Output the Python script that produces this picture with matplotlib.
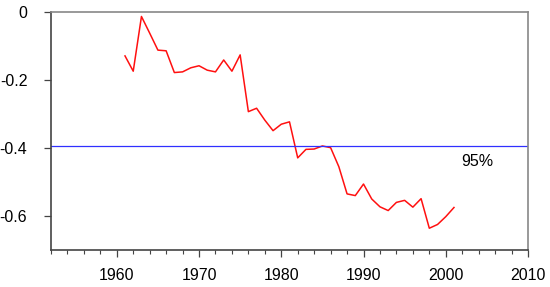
import numpy as np
import matplotlib
matplotlib.use("Agg")
import matplotlib.pyplot as plt
from matplotlib.ticker import MultipleLocator

plt.rcParams['font.family'] = ['Liberation Sans', 'DejaVu Sans']

years = np.arange(1961, 2002)
values = [-0.129, -0.174, -0.013, -0.062, -0.112, -0.114, -0.178, -0.176, -0.164, -0.158,
          -0.171, -0.176, -0.141, -0.174, -0.126, -0.293, -0.283, -0.318, -0.349, -0.330,
          -0.323, -0.429, -0.404, -0.403, -0.394, -0.399, -0.455, -0.535, -0.540, -0.506,
          -0.550, -0.573, -0.584, -0.560, -0.554, -0.574, -0.549, -0.636, -0.625, -0.602,
          -0.575]
threshold = -0.395
label = '95%'

fig = plt.figure(figsize=(5.5, 2.87), dpi=100)
ax = fig.add_axes([0.0927, 0.129, 0.8673, 0.829])

ax.plot(years, values, color='#ff1010', lw=1.1)
ax.axhline(threshold, color='#3030ff', lw=0.9)
ax.text(2003.8, -0.44, label, fontsize=11.5, ha='center', va='center')

ax.set_xlim(1952, 2010)
ax.set_ylim(-0.7, 0)
ax.xaxis.set_major_locator(MultipleLocator(10))
ax.xaxis.set_minor_locator(MultipleLocator(2))
ax.set_yticks([0, -0.2, -0.4, -0.6])
ax.set_yticklabels(['0', '-0.2', '-0.4', '-0.6'])
ax.tick_params(axis='both', which='major', labelsize=11.5, length=5, width=0.9, color='#444444')
ax.tick_params(axis='x', which='minor', length=3, width=0.8, color='#444444')
ax.tick_params(axis='x', pad=8)
ax.tick_params(axis='y', pad=12)

for side in ['left', 'bottom']:
    ax.spines[side].set_color('#444444')
    ax.spines[side].set_linewidth(1.2)
for side in ['top', 'right']:
    ax.spines[side].set_color('#888888')
    ax.spines[side].set_linewidth(1.2)

fig.savefig('out.png', dpi=100)
